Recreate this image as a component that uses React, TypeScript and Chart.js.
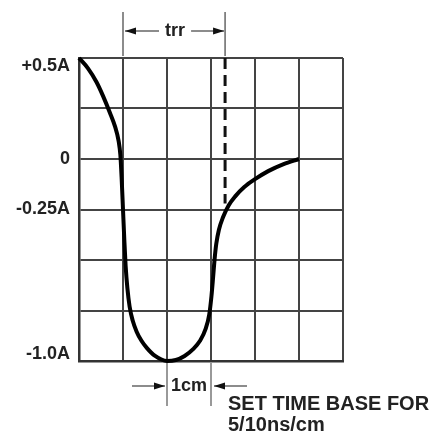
import React, { useEffect, useRef } from "react";
import { Chart, registerables } from "chart.js";

Chart.register(...registerables);

// Time axis in cm (grid divisions), current in A
const timeCm = [0, 0.2, 0.4, 0.55, 0.7, 0.82, 0.9, 0.94, 0.97, 1.0, 1.03, 1.06, 1.1, 1.15, 1.22, 1.31, 1.42, 1.54, 1.73, 2.0, 2.2, 2.4, 2.6, 2.75, 2.88, 2.96, 3.01, 3.05, 3.08, 3.12, 3.18, 3.27, 3.4, 3.55, 3.75, 4.0, 4.3, 4.65, 5.0];
const currentA = [0.5, 0.45, 0.38, 0.31, 0.23, 0.16, 0.09, 0.02, -0.1, -0.25, -0.4, -0.53, -0.64, -0.73, -0.8, -0.855, -0.9, -0.935, -0.975, -1.0, -0.995, -0.975, -0.94, -0.9, -0.84, -0.77, -0.68, -0.58, -0.5, -0.42, -0.35, -0.29, -0.23, -0.185, -0.14, -0.1, -0.06, -0.025, 0];

const yTickValues = [0.5, 0, -0.25, -1.0];
const yTickLabels = ["+0.5A", "0", "-0.25A", "-1.0A"];

const trrStart = 1.0;
const trrEnd = 3.32;
const trrDashTop = 0.5;
const trrDashBottom = -0.22;
const cmMarkStart = 2;
const cmMarkEnd = 3;
const trrLabel = "trr";
const cmLabel = "1cm";
const noteLines = ["SET TIME BASE FOR", "5/10ns/cm"];

const FONT = '"Liberation Sans", Arial, sans-serif';
const TEXT = "#222";

function arrow(ctx: CanvasRenderingContext2D, x1: number, x2: number, y: number) {
  ctx.save();
  ctx.strokeStyle = "#666";
  ctx.lineWidth = 1.5;
  ctx.beginPath();
  ctx.moveTo(x1, y);
  ctx.lineTo(x2, y);
  ctx.stroke();
  const dir = x2 > x1 ? 1 : -1;
  ctx.fillStyle = "#111";
  ctx.beginPath();
  ctx.moveTo(x2, y);
  ctx.lineTo(x2 - dir * 11, y - 3.5);
  ctx.lineTo(x2 - dir * 11, y + 3.5);
  ctx.closePath();
  ctx.fill();
  ctx.restore();
}

const annotations = {
  id: "annotations",
  afterDraw(chart: any) {
    const ctx: CanvasRenderingContext2D = chart.ctx;
    const xs = chart.scales.x;
    const ys = chart.scales.y;
    const { top, bottom, left } = chart.chartArea;
    ctx.save();

    // y labels
    ctx.font = `bold 18px ${FONT}`;
    ctx.fillStyle = TEXT;
    ctx.textAlign = "right";
    ctx.textBaseline = "middle";
    yTickValues.forEach((v, i) => {
      let y = ys.getPixelForValue(v);
      y = Math.min(Math.max(y, top + 8), bottom - 7);
      ctx.fillText(yTickLabels[i], left - 9, y);
    });

    // trr marker
    const xa = xs.getPixelForValue(trrStart);
    const xb = xs.getPixelForValue(trrEnd);
    ctx.strokeStyle = "#666";
    ctx.lineWidth = 1.5;
    [xa, xb].forEach((x) => {
      ctx.beginPath();
      ctx.moveTo(x, top - 46);
      ctx.lineTo(x, top - 2);
      ctx.stroke();
    });
    const ay = top - 27;
    arrow(ctx, xa + 36, xa + 2, ay);
    arrow(ctx, xb - 34, xb - 1, ay);
    ctx.fillStyle = TEXT;
    ctx.textAlign = "center";
    ctx.fillText(trrLabel, (xa + xb) / 2 + 1, ay);

    // 1cm marker
    const xc = xs.getPixelForValue(cmMarkStart);
    const xd = xs.getPixelForValue(cmMarkEnd);
    ctx.strokeStyle = "#777";
    ctx.lineWidth = 1.5;
    [xc, xd].forEach((x) => {
      ctx.beginPath();
      ctx.moveTo(x, bottom + 2);
      ctx.lineTo(x, bottom + 45);
      ctx.stroke();
    });
    const by = bottom + 25;
    arrow(ctx, xc - 35, xc - 2, by);
    arrow(ctx, xd + 36, xd + 3, by);
    ctx.fillStyle = TEXT;
    ctx.textAlign = "center";
    ctx.fillText(cmLabel, (xc + xd) / 2, by);

    // note
    ctx.font = `bold 20px ${FONT}`;
    ctx.textAlign = "left";
    ctx.fillText(noteLines[0], xd + 17, bottom + 43);
    ctx.fillText(noteLines[1], xd + 17, bottom + 64);

    ctx.restore();
  },
};

export default function App() {
  const ref = useRef<HTMLCanvasElement>(null);
  useEffect(() => {
    if (!ref.current) return;
    const chart = new Chart(ref.current, {
      type: "line",
      data: {
        datasets: [
          {
            data: timeCm.map((x, i) => ({ x, y: currentA[i] })),
            borderColor: "#000",
            borderWidth: 4,
            pointRadius: 0,
            cubicInterpolationMode: "monotone",
            clip: 6,
          } as any,
          {
            data: [
              { x: trrEnd, y: trrDashTop },
              { x: trrEnd, y: trrDashBottom },
            ],
            borderColor: "#111",
            borderWidth: 3,
            borderDash: [11, 6],
            pointRadius: 0,
            clip: 6,
          } as any,
        ],
      },
      options: {
        responsive: false,
        animation: false,
        events: [],
        layout: { padding: { top: 58, right: 88, bottom: 75, left: 0 } },
        plugins: { legend: { display: false }, tooltip: { enabled: false } },
        scales: {
          x: {
            type: "linear",
            min: 0,
            max: 6,
            ticks: { display: false, stepSize: 1 },
            grid: { color: "#444", lineWidth: 2, drawTicks: false },
            border: { color: "#333", width: 2.5 },
            afterFit: (s: any) => {
              s.height = 0;
            },
          },
          y: {
            type: "linear",
            min: -1.0,
            max: 0.5,
            ticks: { display: false, stepSize: 0.25 },
            grid: { color: "#444", lineWidth: 2, drawTicks: false },
            border: { color: "#333", width: 2.5 },
            afterFit: (s: any) => {
              s.width = 79;
            },
          },
        },
      },
      plugins: [annotations],
    });
    return () => chart.destroy();
  }, []);
  return (
    <div style={{ position: "fixed", left: 0, top: 0, width: 431, height: 436, background: "#fff" }}>
      <canvas ref={ref} width={431} height={436} style={{ display: "block" }} />
    </div>
  );
}
